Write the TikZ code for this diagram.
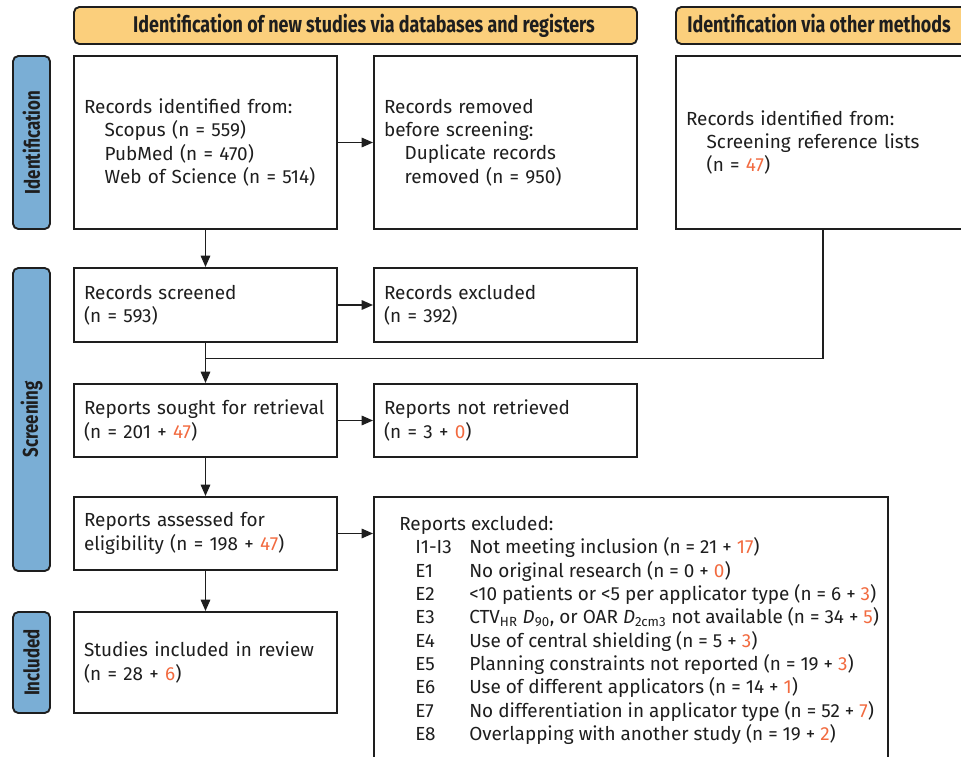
\documentclass[tikz,border=0pt]{standalone}
\usepackage{fontspec}
\usepackage{graphicx}
\setmainfont{Fira Sans}
\usetikzlibrary{arrows.meta}
\definecolor{hdrfill}{HTML}{FBCF7C}
\definecolor{sidefill}{HTML}{7AAED5}
\definecolor{orn}{HTML}{F26A3F}
\definecolor{ink}{HTML}{1E1E1E}
\newcommand{\og}[1]{\textcolor{orn}{#1}}
\newcommand{\ind}{\hspace*{15.5pt}}
\newcommand{\indx}{\hspace*{12pt}}
\newcommand{\hdrtxt}[1]{\scalebox{0.79}[1]{\bfseries #1}}
\tikzset{
  flowbox/.style={draw=ink, line width=1.4pt, rectangle, fill=white, align=left,
    inner xsep=7.5pt, inner ysep=0pt, font=\fontsize{14.2}{17.5}\selectfont, text=ink},
  hdrbox/.style={draw=ink, line width=1.4pt, rounded corners=4pt, fill=hdrfill,
    minimum height=27.75pt, inner sep=0pt},
  hdrtext/.style={text=ink, font=\fontsize{17}{18}\selectfont, inner sep=0pt},
  sidebox/.style={draw=ink, line width=1.4pt, rounded corners=4pt, fill=sidefill,
    minimum width=27.75pt, inner sep=0pt},
  sidetxt/.style={rotate=90, font=\fontsize{16}{16}\selectfont, text=ink, inner sep=0pt},
  conn/.style={draw=ink, line width=1.4pt},
  arr/.style={conn, -{Triangle[length=8.5pt,width=7pt]}}
}
\begin{document}
\begin{tikzpicture}[x=0.75pt,y=-0.75pt]
\useasboundingbox (0,0) rectangle (961,757);
\clip (0,0) rectangle (961,757);
\fill[white] (0,0) rectangle (961,757);

% headers
\node[hdrbox, minimum width=422.25pt] (h1) at (355.5,25.5) {};
\node[hdrtext, anchor=base] (h1t) at (364,32) {\hdrtxt{Identification of new studies via databases and registers}};
\node[hdrbox, minimum width=220.5pt] (h2) at (823,25.5) {};
\node[hdrtext, anchor=base west] (h2t) at (687,32) {\hdrtxt{Identification via other methods}};

% side labels
\node[sidebox, minimum height=129.75pt] (s1) at (31.5,142.5) {};
\node[sidetxt] (s1t) at (31.5,142.5) {\hdrtxt{Identification}};
\node[sidebox, minimum height=227.25pt] (s2) at (31.5,419.5) {};
\node[sidetxt] (s2t) at (31.5,419.5) {\hdrtxt{Screening}};
\node[sidebox, minimum height=75.75pt] (s3) at (31.5,662.5) {};
\node[sidetxt] (s3t) at (31.5,662.5) {\hdrtxt{Included}};

% boxes
\node[flowbox, text width=182.25pt, minimum height=129.75pt] (b1) at (205.5,142.5)
  {Records identified from:\\ \ind Scopus (n = 559)\\ \ind PubMed (n = 470)\\ \ind Web of Science (n = 514)};
\node[flowbox, text width=182.25pt, minimum height=129.75pt] (b2) at (505.5,142.5)
  {Records removed\\ before screening:\\ \ind Duplicate records\\ \ind removed (n = 950)};
\node[flowbox, text width=205.5pt, minimum height=129.75pt] (b3) at (823,142.5)
  {Records identified from:\\ \ind Screening reference lists\\ \ind (n = \og{47})\\[-2pt]};

\node[flowbox, text width=182.25pt, minimum height=55.5pt] (scr) at (205.5,305)
  {Records screened\\ (n = 593)};
\node[flowbox, text width=182.25pt, minimum height=55.5pt] (exc) at (505.5,305)
  {Records excluded\\ (n = 392)};
\node[flowbox, text width=182.25pt, minimum height=54.75pt] (sou) at (205.5,420.5)
  {Reports sought for retrieval\\ (n = 201 + \og{47})};
\node[flowbox, text width=182.25pt, minimum height=54.75pt] (nre) at (505.5,420.5)
  {Reports not retrieved\\ (n = 3 + \og{0})};
\node[flowbox, text width=182.25pt, minimum height=54.75pt] (ass) at (205.5,533.5)
  {Reports assessed for\\ eligibility (n = 198 + \og{47})\\[-4pt]};
\node[flowbox, text width=182.25pt, minimum height=75.75pt] (inc) at (205.5,662.5)
  {Studies included in review\\ (n = 28 + \og{6})\\[-6pt]};
\node[flowbox, minimum width=385.5pt, minimum height=204.75pt] (rex) at (631,633.5) {};
\node[anchor=north west, inner sep=0pt, align=left, text=ink,
      font=\fontsize{14.2}{17.5}\selectfont] (rext) at (399,516)
  {Reports excluded:\\
   \indx\makebox[40.5pt][l]{I1-I3}Not meeting inclusion (n = 21 + \og{17})\\
   \indx\makebox[40.5pt][l]{E1}No original research (n = 0 + \og{0})\\
   \indx\makebox[40.5pt][l]{E2}<10 patients or <5 per applicator type (n = 6 + \og{3})\\
   \indx\makebox[40.5pt][l]{E3}CTV\textsubscript{HR} \textit{D}\textsubscript{90}, or OAR \textit{D}\textsubscript{2cm3} not available (n = 34 + \og{5})\\
   \indx\makebox[40.5pt][l]{E4}Use of central shielding (n = 5 + \og{3})\\
   \indx\makebox[40.5pt][l]{E5}Planning constraints not reported (n = 19 + \og{3})\\
   \indx\makebox[40.5pt][l]{E6}Use of different applicators (n = 14 + \og{1})\\
   \indx\makebox[40.5pt][l]{E7}No differentiation in applicator type (n = 52 + \og{7})\\
   \indx\makebox[40.5pt][l]{E8}Overlapping with another study (n = 19 + \og{2})};

% connectors
\draw[arr] (b1) -- (b2);
\draw[arr] (b1) -- (scr);
\draw[arr] (scr) -- (exc);
\coordinate (mj) at (205.5,358.5);
\draw[conn] (b3.south) |- (mj);
\draw[arr] (scr) -- (sou);
\draw[arr] (sou) -- (nre);
\draw[arr] (sou) -- (ass);
\draw[arr] (ass.east) -- (ass.east -| rex.west);
\draw[arr] (ass) -- (inc);
\end{tikzpicture}
\end{document}
